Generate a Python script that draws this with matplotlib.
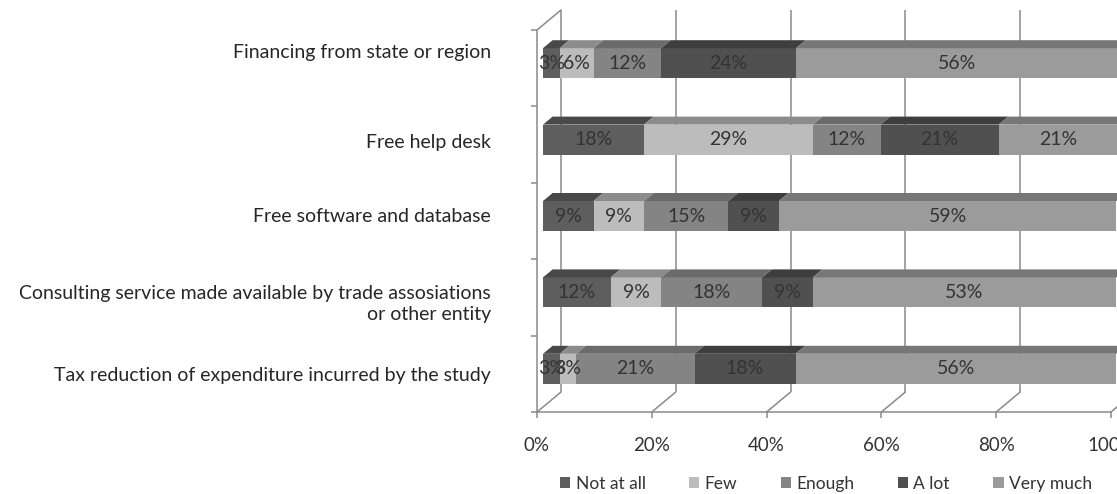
import matplotlib
matplotlib.use("Agg")
import matplotlib.pyplot as plt
from matplotlib.patches import Polygon, Patch, ConnectionPatch

# --- donnees (parts en %) ---
CATEGORIES = [
    "Financing from state or region",
    "Free help desk",
    "Free software and database",
    "Consulting service made available by trade assosiations\nor other entity",
    "Tax reduction of expenditure incurred by the study",
]
SERIES = ["Not at all", "Few", "Enough", "A lot", "Very much"]
NOT_AT_ALL = [2.9, 17.6, 8.8, 11.8, 2.9]
FEW = [5.9, 29.4, 8.8, 8.8, 2.9]
ENOUGH = [11.8, 11.8, 14.7, 17.6, 20.6]
A_LOT = [23.5, 20.6, 8.8, 8.8, 17.6]
VERY_MUCH = [55.9, 20.6, 58.8, 52.9, 55.9]
X_TICKS = [0, 20, 40, 60, 80, 100]

FRONT_COLORS = ["#5e5e5e", "#bcbcbc", "#848484", "#505050", "#9b9b9b"]
TOP_COLORS = ["#494949", "#8c8c8c", "#6b6b6b", "#3e3e3e", "#777777"]
GRID = "#8a8a8a"
TEXT = "#333333"

plt.rcParams["font.family"] = ["Lato", "DejaVu Sans"]

# --- geometrie (pixels) : plan des barres, decalages avant / fond ---
W, H = 1117, 494
BAR_LEFT, BAR_TOP, BAR_W, BAR_H_PX = 543, 25, 574, 382
FRONT_SHIFT = (-6, 5)
BACK_SHIFT = (18, -15)
TOP_SHIFT = (9.6, -8)
PX_PER_PCT = BAR_W / 100
PX_PER_CAT = BAR_H_PX / len(CATEGORIES)
BAR_THICK = 30 / PX_PER_CAT
LABEL_NUDGE = [11.5, 1.5, 3.5, -4.5, -1.5]  # points


def rect(shift):
    left = (BAR_LEFT + shift[0]) / W
    bottom = (H - (BAR_TOP + shift[1]) - BAR_H_PX) / H
    return [left, bottom, BAR_W / W, BAR_H_PX / H]


def setup(ax):
    ax.set_xlim(0, 100)
    ax.set_ylim(len(CATEGORIES) - 0.5, -0.5)
    ax.patch.set_visible(False)


fig = plt.figure(figsize=(W / 100, H / 100), dpi=100)

# mur du fond : lignes verticales
ax_back = fig.add_axes(rect(BACK_SHIFT))
setup(ax_back)
ax_back.axis("off")
ax_back.vlines(X_TICKS, -0.5, len(CATEGORIES) - 0.5, color=GRID, lw=1.1, clip_on=False)

# barres
ax_bar = fig.add_axes(rect((0, 0)))
setup(ax_bar)
ax_bar.axis("off")

series_values = [NOT_AT_ALL, FEW, ENOUGH, A_LOT, VERY_MUCH]
tdx = TOP_SHIFT[0] / PX_PER_PCT
tdy = TOP_SHIFT[1] / PX_PER_CAT
lefts = [0.0] * len(CATEGORIES)
for j, values in enumerate(series_values):
    for i, v in enumerate(values):
        l = lefts[i]
        top = i - BAR_THICK / 2
        ax_bar.barh(i, v, left=l, height=BAR_THICK, color=FRONT_COLORS[j],
                    edgecolor="none", clip_on=False)
        ax_bar.add_patch(Polygon([(l, top), (l + v, top), (l + v + tdx, top + tdy),
                                  (l + tdx, top + tdy)], closed=True,
                                 facecolor=TOP_COLORS[j], edgecolor="none", clip_on=False))
        ax_bar.text(l + v / 2, i, f"{v:.0f}%", ha="center", va="center",
                    fontsize=14, color=TEXT, clip_on=False)
        lefts[i] = l + v

# plan avant : axes, graduations, etiquettes
ax_front = fig.add_axes(rect(FRONT_SHIFT))
setup(ax_front)
for side in ("top", "right"):
    ax_front.spines[side].set_visible(False)
for side in ("left", "bottom"):
    ax_front.spines[side].set_color(GRID)
    ax_front.spines[side].set_linewidth(1.1)
ax_front.set_xticks(X_TICKS, labels=[f"{t}%" for t in X_TICKS])
ax_front.set_yticks([k - 0.5 for k in range(len(CATEGORIES) + 1)], labels=[])
ax_front.tick_params(axis="x", length=4.3, width=1.1, color=GRID, pad=13.5,
                     labelsize=13.5, labelcolor=TEXT)
ax_front.tick_params(axis="y", length=4, width=1.1, color=GRID)

for i, (cat, nudge) in enumerate(zip(CATEGORIES, LABEL_NUDGE)):
    ax_front.annotate(cat, xy=(0, i), xycoords=ax_front.get_yaxis_transform(),
                      xytext=(-33, nudge), textcoords="offset points",
                      ha="right", va="center", multialignment="right",
                      linespacing=1.3, fontsize=14, color="#262626")

# diagonales du sol et du coin superieur gauche
floor_y = len(CATEGORIES) - 0.5
for x in X_TICKS:
    fig.add_artist(ConnectionPatch(xyA=(x, floor_y), coordsA=ax_front.transData,
                                   xyB=(x, floor_y), coordsB=ax_back.transData,
                                   color=GRID, lw=1.1))
fig.add_artist(ConnectionPatch(xyA=(0, -0.5), coordsA=ax_front.transData,
                               xyB=(0, -0.5), coordsB=ax_back.transData,
                               color=GRID, lw=1.1))

handles = [Patch(facecolor=c, edgecolor="none") for c in FRONT_COLORS]
fig.legend(handles, SERIES, loc="center", bbox_to_anchor=(826 / W, 1 - 484 / H),
           ncol=5, frameon=False, fontsize=12.5, handlelength=0.6, handleheight=0.6,
           handletextpad=0.3, columnspacing=2.5, labelcolor=TEXT)

fig.savefig("out.png", dpi=100)
